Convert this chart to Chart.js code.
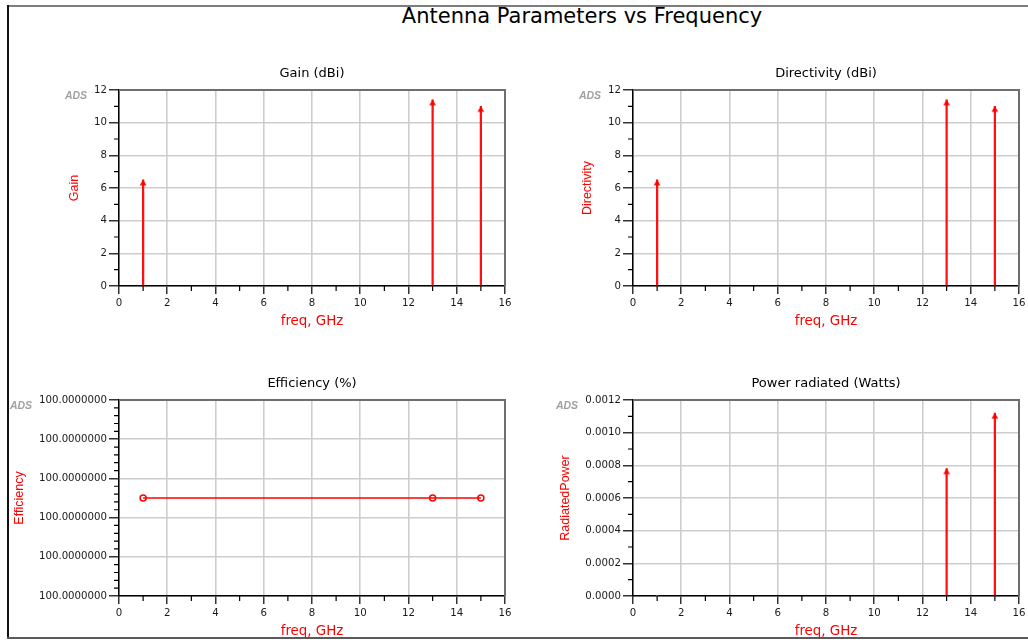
<!DOCTYPE html>
<html><head><meta charset="utf-8">
<script src="https://cdn.jsdelivr.net/npm/chart.js@4.4.1/dist/chart.umd.min.js"></script>
<style>
html,body{margin:0;padding:0;background:#fff;width:1028px;height:642px;overflow:hidden;position:relative;}
.box{position:absolute;}
.box canvas{display:block;}
#title{position:absolute;left:282px;width:600px;top:4px;text-align:center;font-family:'DejaVu Sans';font-size:21px;color:#000;line-height:24px;white-space:nowrap;}
.line{position:absolute;}
</style></head><body>
<div class="line" style="left:7px;top:5px;width:1021px;height:2px;background:#7d7d7d"></div>
<div class="line" style="left:7px;top:5px;width:2px;height:634px;background:#111"></div>
<div class="line" style="left:7px;top:637px;width:1021px;height:2px;background:#5a5a5a"></div>
<div id="title">Antenna Parameters vs Frequency</div>
<div class="box" id="b0"><canvas id="c0"></canvas></div>
<div class="box" id="b1"><canvas id="c1"></canvas></div>
<div class="box" id="b2"><canvas id="c2"></canvas></div>
<div class="box" id="b3"><canvas id="c3"></canvas></div>
<script>
// ---------------- data ----------------
const freqGHz = [1, 13, 15];
const gainDBi = [6.5, 11.4, 11.0];
const directivityDBi = [6.5, 11.4, 11.0];
const efficiencyPct = [100, 100, 100];
const radiatedPowerW = [0.000002, 0.00078, 0.00112];

const freqTicks = [0, 2, 4, 6, 8, 10, 12, 14, 16];
const dBiTicks = [0, 2, 4, 6, 8, 10, 12];
const powerTicks = [0, 0.0002, 0.0004, 0.0006, 0.0008, 0.0010, 0.0012];
const efficiencyTickLabels = ['100.0000000', '100.0000000', '100.0000000', '100.0000000', '100.0000000', '100.0000000'];
const efficiencyAxisRange = [99.999999975, 100.000000025];

const plotTitles = ['Gain (dBi)', 'Directivity (dBi)', 'Efficiency (%)', 'Power radiated (Watts)'];
const yTitles = ['Gain', 'Directivity', 'Efficiency', 'RadiatedPower'];
const xTitle = 'freq, GHz';
const watermark = 'ADS';

// ---------------- layout ----------------
const layouts = [
  {box:[10,60,510,280],  plot:[119,505,90,286],   titleCy:74,  yTitleCx:75,  xTitleCy:322, wmCx:76},
  {box:[530,60,498,280], plot:[633,1019,90,286],  titleCy:74,  yTitleCx:588, xTitleCy:322, wmCx:590},
  {box:[0,370,520,272],  plot:[119,505,400,596],  titleCy:384, yTitleCx:20,  xTitleCy:632, wmCx:21},
  {box:[530,370,498,272],plot:[633,1019,400,596], titleCy:384, yTitleCx:566, xTitleCy:632, wmCx:567}
];

const RED = '#ff0000';
const TICK_FONT = {family:'DejaVu Sans', size:10.2};
const TITLE_FONT = {family:'DejaVu Sans', size:13, weight:'normal', lineHeight:1.2};
const XT_FONT = {family:'DejaVu Sans', size:13.4, lineHeight:1.2};
const YT_FONT = {family:'Liberation Sans', size:12.5, lineHeight:1.2};

function arrowHead(){
  const c = document.createElement('canvas'); c.width = 8; c.height = 14;
  const g = c.getContext('2d'); g.fillStyle = RED;
  g.beginPath(); g.moveTo(4, 7); g.lineTo(7.4, 12.6); g.lineTo(0.6, 12.6); g.closePath(); g.fill();
  return c;
}
const ARROW = arrowHead();

function midpoints(arr, n){
  const out = [];
  for (let i = 0; i < arr.length - 1; i++)
    for (let k = 1; k <= n; k++) out.push(arr[i] + (arr[i+1] - arr[i]) * k / (n + 1));
  return out;
}

function framePlugin(L, minorX, minorY){
  return {
    id:'frame',
    beforeDatasetsDraw(chart){
      const {ctx, chartArea:a} = chart;
      ctx.save();
      ctx.strokeStyle = '#6e6e6e'; ctx.lineWidth = 2;
      ctx.beginPath();
      ctx.moveTo(a.left, a.top); ctx.lineTo(a.right, a.top); ctx.lineTo(a.right, a.bottom);
      ctx.stroke();
      ctx.restore();
    },
    afterDraw(chart){
      const {ctx, chartArea:a, scales} = chart;
      ctx.save();
      ctx.strokeStyle = '#000'; ctx.lineWidth = 1.2;
      ctx.beginPath();
      minorX.forEach(v => { const p = scales.x.getPixelForValue(v); ctx.moveTo(p, a.bottom); ctx.lineTo(p, a.bottom + 5); });
      minorY.forEach(v => { const p = scales.y.getPixelForValue(v); ctx.moveTo(a.left - 5, p); ctx.lineTo(a.left, p); });
      ctx.stroke();
      ctx.font = 'italic bold 10.5px "Liberation Sans"';
      ctx.fillStyle = '#a0a0a0';
      ctx.filter = 'blur(0.6px)';
      ctx.textAlign = 'center'; ctx.textBaseline = 'middle';
      ctx.fillText(watermark, L.wmCx - L.box[0], L.plot[2] + 6 - L.box[1]);
      ctx.restore();
    }
  };
}

function makeChart(i, datasets, yCfg, type){
  const L = layouts[i];
  const [bx, by, bw, bh] = L.box;
  const [pl, pr, pt, pb] = L.plot;
  const el = document.getElementById('b' + i);
  el.style.left = bx + 'px'; el.style.top = by + 'px';
  el.style.width = bw + 'px'; el.style.height = bh + 'px';
  const titleLH = TITLE_FONT.size * 1.2;
  const tPadTop = L.titleCy - by - titleLH / 2;
  const tPadBot = (pt - by) - titleLH - tPadTop;
  const yW = pl - bx;
  const xH = by + bh - pb;
  const xtLH = XT_FONT.size * 1.2;
  const ytLH = YT_FONT.size * 1.2;
  const minorX = midpoints(freqTicks, 1);
  new Chart(document.getElementById('c' + i), {
    type: type,
    data: {datasets: datasets},
    plugins: [framePlugin(L, minorX, yCfg.minor)],
    options: {
      responsive: true, maintainAspectRatio: false, animation: false, devicePixelRatio: 1,
      events: [],
      layout: {padding: {left: 0, top: 0, bottom: 0, right: bx + bw - pr}},
      plugins: {
        legend: {display: false}, tooltip: {enabled: false},
        title: {display: true, text: plotTitles[i], fullSize: false, color: '#000', font: TITLE_FONT,
                padding: {top: tPadTop, bottom: tPadBot}}
      },
      scales: {
        x: {
          type: 'linear', min: 0, max: 16, offset: false,
          afterBuildTicks: s => { s.ticks = freqTicks.map(v => ({value: v})); },
          afterFit: s => { s.height = xH; s.paddingLeft = 0; s.paddingRight = 0; },
          grid: {offset: false, color: '#cdcdcd', lineWidth: 1.6, tickColor: '#000', tickLength: 8, tickWidth: 1.2},
          border: {color: '#000', width: 1.5},
          ticks: {font: TICK_FONT, color: '#1a1a1a', padding: 3, maxRotation: 0, autoSkip: false,
                  callback: v => String(v)},
          title: {display: true, text: xTitle, color: RED, font: XT_FONT,
                  padding: {top: 0, bottom: (by + bh) - L.xTitleCy - xtLH / 2}}
        },
        y: {
          type: 'linear', min: yCfg.min, max: yCfg.max,
          afterBuildTicks: s => { s.ticks = yCfg.ticks.map(v => ({value: v})); },
          afterFit: s => { s.width = yW; s.paddingTop = 0; s.paddingBottom = 0; },
          grid: {offset: false, color: '#cdcdcd', lineWidth: 1.6, tickColor: '#000', tickLength: 10, tickWidth: 1.2},
          border: {color: '#000', width: 1.5},
          ticks: {font: TICK_FONT, color: '#1a1a1a', padding: 2, autoSkip: false, callback: yCfg.label},
          title: {display: true, text: yTitles[i], color: RED, font: YT_FONT,
                  padding: {top: L.yTitleCx - bx - ytLH / 2, bottom: 0}}
        }
      }
    }
  });
}

function stemDatasets(values){
  const pts = freqGHz.map((f, k) => ({x: f, y: values[k]}));
  return [
    {type: 'bar', data: pts, backgroundColor: '#ff1010', borderWidth: 0, barThickness: 1.6, order: 2},
    {type: 'scatter', data: pts, pointStyle: ARROW, pointRadius: 4, pointHoverRadius: 4, order: 1}
  ];
}

const dBiCfg = {min: 0, max: 12, ticks: dBiTicks, minor: midpoints(dBiTicks, 1), label: v => String(v)};
makeChart(0, stemDatasets(gainDBi), dBiCfg, 'bar');
makeChart(1, stemDatasets(directivityDBi), dBiCfg, 'bar');

const [eLo, eHi] = efficiencyAxisRange;
const effTicks = efficiencyTickLabels.map((_, k) => eLo + (eHi - eLo) * k / (efficiencyTickLabels.length - 1));
makeChart(2, [{
  type: 'scatter', showLine: true,
  data: freqGHz.map((f, k) => ({x: f, y: efficiencyPct[k]})),
  borderColor: RED, borderWidth: 1.5,
  pointStyle: 'circle', pointRadius: 3, pointBorderWidth: 1.5, pointBorderColor: RED,
  pointBackgroundColor: 'rgba(0,0,0,0)'
}], {min: eLo, max: eHi, ticks: effTicks, minor: midpoints(effTicks, 4),
     label: (v, k) => efficiencyTickLabels[k]}, 'scatter');

makeChart(3, stemDatasets(radiatedPowerW),
  {min: 0, max: 0.0012, ticks: powerTicks, minor: midpoints(powerTicks, 1), label: v => v.toFixed(4)}, 'bar');
</script>
</body></html>
